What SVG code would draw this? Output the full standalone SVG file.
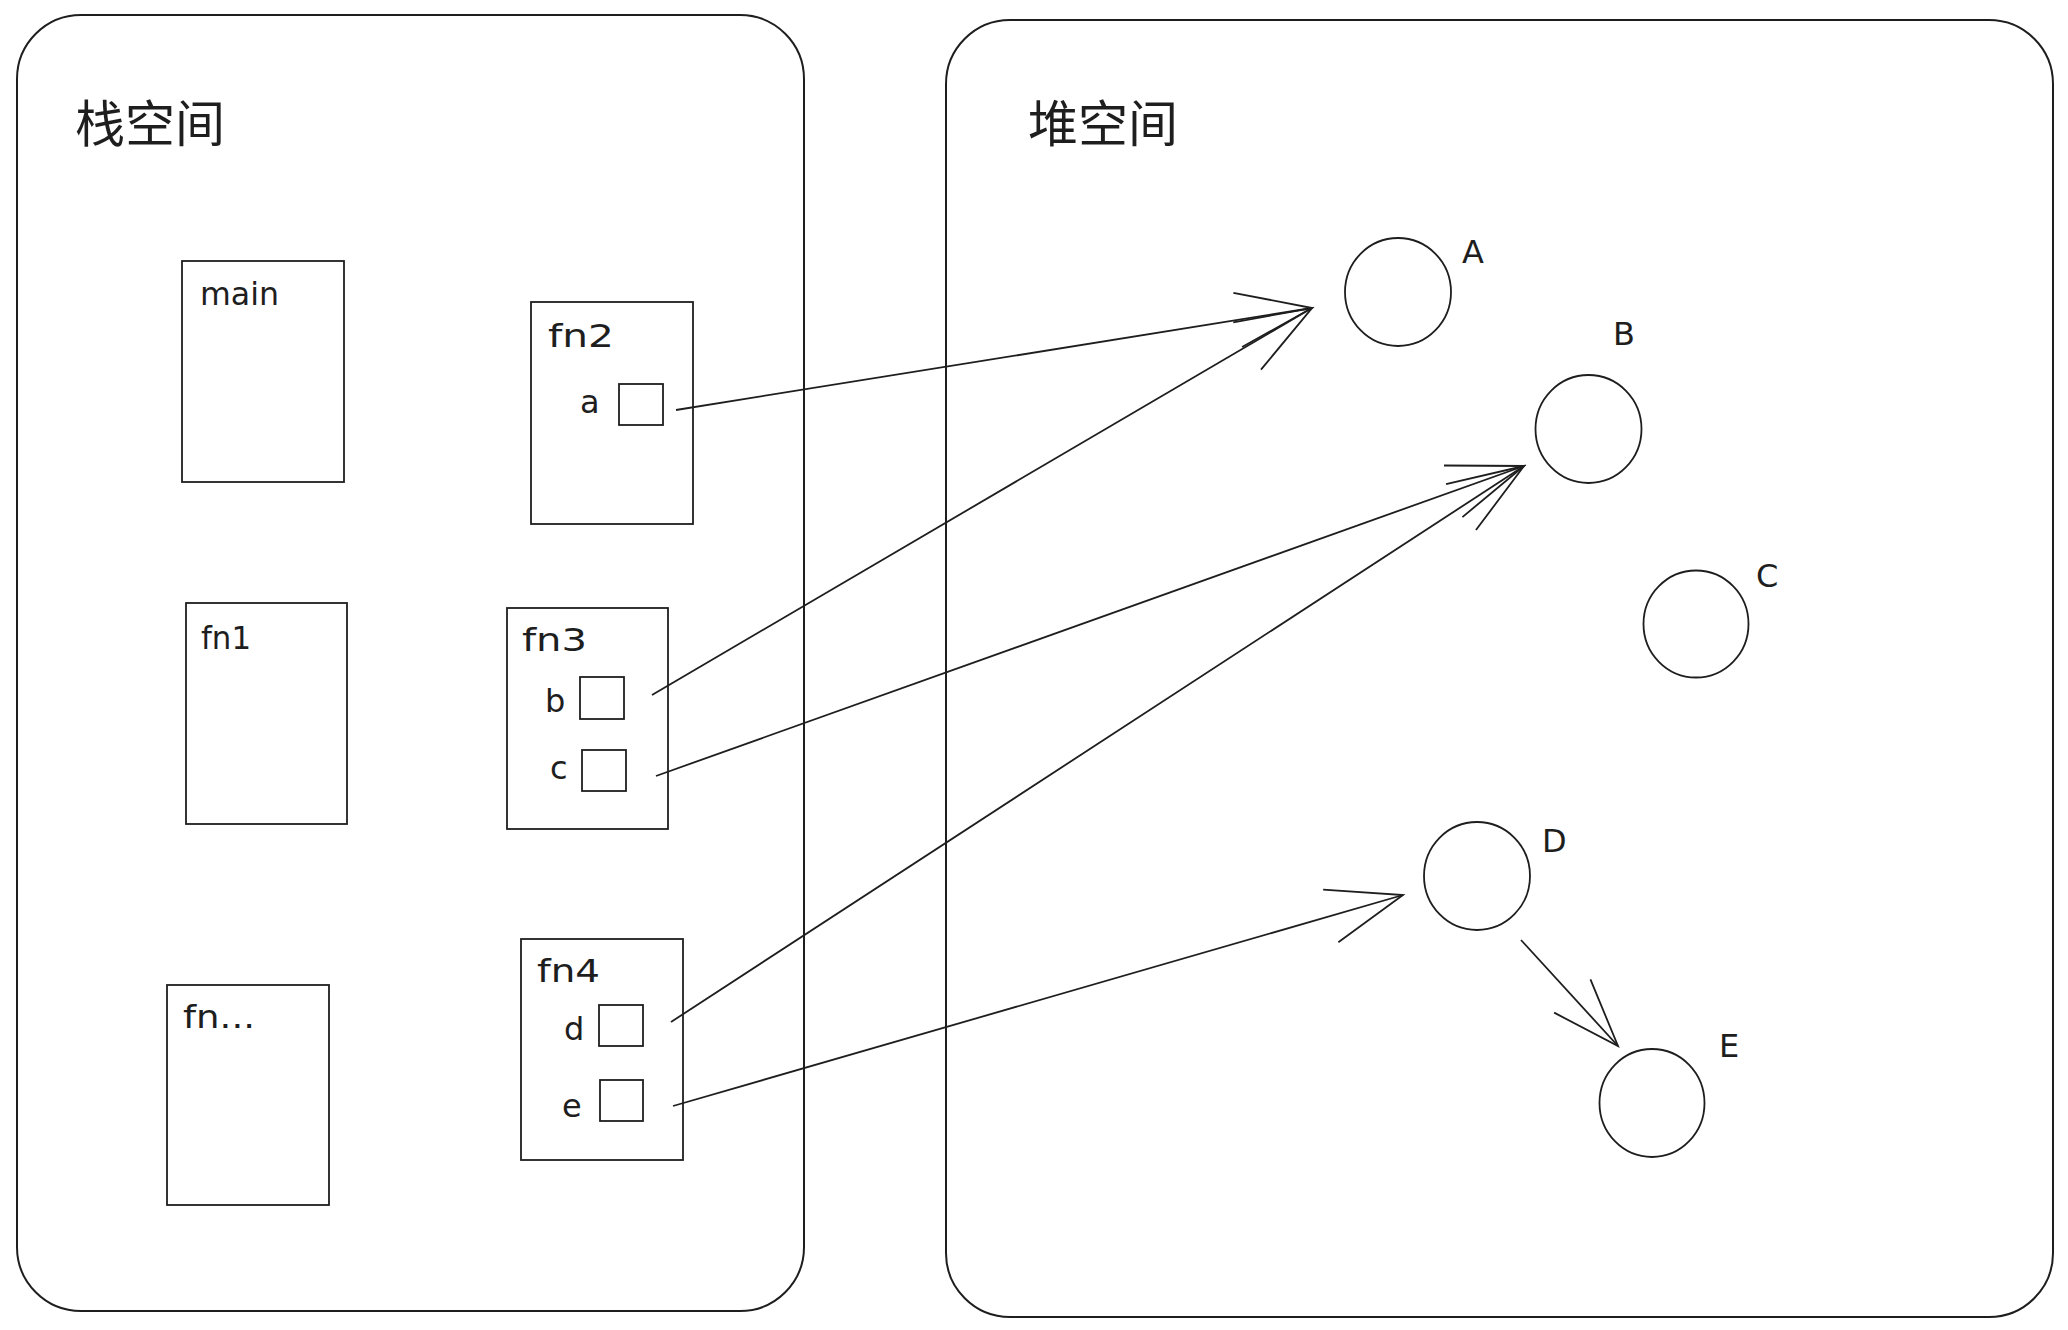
<svg xmlns="http://www.w3.org/2000/svg" width="2068" height="1330" viewBox="0 0 2068 1330">
<style>
.bg{fill:#ffffff}
.space{fill:none;stroke:#1e1e1e;stroke-width:2}
.frame{fill:none;stroke:#1e1e1e;stroke-width:1.8}
.slot{fill:none;stroke:#1e1e1e;stroke-width:1.8}
.obj{fill:none;stroke:#1e1e1e;stroke-width:1.8}
.title{font-family:"Noto Sans CJK SC","Noto Sans",sans-serif;font-size:50px;fill:#1e1e1e}
.lbl{font-family:"DejaVu Sans","Liberation Sans",sans-serif;font-size:32px;fill:#1e1e1e}
.conn{fill:none;stroke:#1e1e1e;stroke-width:1.8}
</style>
<defs>
<marker id="arr" markerUnits="userSpaceOnUse" orient="auto" refX="0" refY="0" markerWidth="90" markerHeight="70" viewBox="-85 -35 90 70" overflow="visible">
<path d="M-75.2,-27.4 L0,0 L-75.2,27.4" fill="none" stroke="#1e1e1e" stroke-width="1.8"/>
</marker>
<marker id="arrs" markerUnits="userSpaceOnUse" orient="auto" refX="0" refY="0" markerWidth="80" markerHeight="60" viewBox="-75 -30 80 60" overflow="visible">
<path d="M-67.7,-24.6 L0,0 L-67.7,24.6" fill="none" stroke="#1e1e1e" stroke-width="1.8"/>
</marker>
</defs>
<rect class="bg" x="0" y="0" width="2068" height="1330"/>

<g id="stack-space">
<rect class="space" x="17" y="15" width="787" height="1296" rx="64" ry="64"/>
<text class="title" x="75" y="142">栈空间</text>
</g>

<g id="heap-space">
<rect class="space" x="946" y="20" width="1107" height="1297" rx="64" ry="64"/>
<text class="title" x="1028" y="142">堆空间</text>
</g>

<g id="frame-main">
<rect class="frame" x="182" y="261" width="162" height="221"/>
<text class="lbl" x="200" y="305" font-size="30" textLength="79" lengthAdjust="spacingAndGlyphs">main</text>
</g>

<g id="frame-fn1">
<rect class="frame" x="186" y="603" width="161" height="221"/>
<text class="lbl" x="201" y="649" textLength="50" lengthAdjust="spacingAndGlyphs">fn1</text>
</g>

<g id="frame-fnx">
<rect class="frame" x="167" y="985" width="162" height="220"/>
<text class="lbl" x="183" y="1028" textLength="72" lengthAdjust="spacingAndGlyphs">fn...</text>
</g>

<g id="frame-fn2">
<rect class="frame" x="531" y="302" width="162" height="222"/>
<text class="lbl" x="548" y="347" textLength="66" lengthAdjust="spacingAndGlyphs">fn2</text>
<g id="slot-a">
<text class="lbl" x="580" y="413">a</text>
<rect class="slot" x="619" y="384" width="44" height="41"/>
</g>
</g>

<g id="frame-fn3">
<rect class="frame" x="507" y="608" width="161" height="221"/>
<text class="lbl" x="522" y="651" textLength="65" lengthAdjust="spacingAndGlyphs">fn3</text>
<g id="slot-b">
<text class="lbl" x="545" y="712">b</text>
<rect class="slot" x="580" y="677" width="44" height="42"/>
</g>
<g id="slot-c">
<text class="lbl" x="550" y="779">c</text>
<rect class="slot" x="582" y="750" width="44" height="41"/>
</g>
</g>

<g id="frame-fn4">
<rect class="frame" x="521" y="939" width="162" height="221"/>
<text class="lbl" x="537" y="982" textLength="63" lengthAdjust="spacingAndGlyphs">fn4</text>
<g id="slot-d">
<text class="lbl" x="564" y="1040">d</text>
<rect class="slot" x="599" y="1005" width="44" height="41"/>
</g>
<g id="slot-e">
<text class="lbl" x="562" y="1117">e</text>
<rect class="slot" x="600" y="1080" width="43" height="41"/>
</g>
</g>

<g id="obj-A">
<ellipse class="obj" cx="1398" cy="292" rx="53" ry="54"/>
<text class="lbl" x="1462" y="263">A</text>
</g>
<g id="obj-B">
<ellipse class="obj" cx="1588.5" cy="429" rx="53" ry="54"/>
<text class="lbl" x="1613" y="345" font-size="40">B</text>
</g>
<g id="obj-C">
<ellipse class="obj" cx="1696" cy="624" rx="52.5" ry="53.5"/>
<text class="lbl" x="1756" y="587">C</text>
</g>
<g id="obj-D">
<ellipse class="obj" cx="1477" cy="876" rx="53" ry="54"/>
<text class="lbl" x="1542" y="852" font-size="40">D</text>
</g>
<g id="obj-E">
<ellipse class="obj" cx="1652" cy="1103" rx="52.5" ry="54"/>
<text class="lbl" x="1719" y="1057" font-size="34">E</text>
</g>

<g id="connectors">
<path class="conn" d="M676,410 L1312,308" marker-end="url(#arr)"/>
<path class="conn" d="M652,695 L1312,308" marker-end="url(#arr)"/>
<path class="conn" d="M656,776 L1524,466" marker-end="url(#arr)"/>
<path class="conn" d="M671,1022 L1524,466" marker-end="url(#arr)"/>
<path class="conn" d="M673,1106 L1403,895" marker-end="url(#arr)"/>
<path class="conn" d="M1521,940 L1618,1046" marker-end="url(#arrs)"/>
</g>
</svg>
